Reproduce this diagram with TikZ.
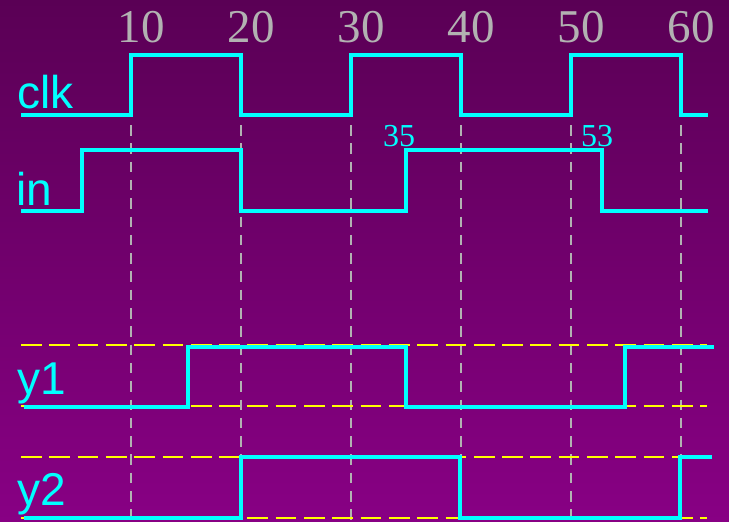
\documentclass[tikz,border=0pt]{standalone}
\usepackage{fontspec}
\setmainfont{Liberation Serif}
\newfontfamily\arialfont{Liberation Sans}
\usepackage{tikz}
\usepackage{xcolor}
\definecolor{bgtop}{RGB}{90, 0, 85}
\definecolor{bgbot}{RGB}{136, 0, 132}
\definecolor{sigcyan}{RGB}{0, 255, 255}
\definecolor{gridgray}{RGB}{178, 178, 178}
\definecolor{lvlyellow}{RGB}{255, 255, 0}
\tikzstyle{wave} = [sigcyan, line width=4pt, line join=miter]
\tikzstyle{gridline} = [gridgray, line width=2.4pt, dash pattern=on 10.5pt off 7.8pt]
\tikzstyle{level} = [lvlyellow, line width=2pt, dash pattern=on 20.7pt off 7.6pt]
\tikzstyle{siglbl} = [inner sep=0, anchor=base west, text=sigcyan, font=\arialfont\fontsize{46}{46}\selectfont]
\tikzstyle{ticklbl} = [inner sep=0, anchor=base, text=gridgray, font=\fontsize{47}{47}\selectfont]
\tikzstyle{timelbl} = [inner sep=0, anchor=base, text=sigcyan, font=\fontsize{32}{32}\selectfont]

\begin{document}
\begin{tikzpicture}[x=1pt, y=-1pt]
    \useasboundingbox (0,0) rectangle (729,522);
    \shade[top color=bgtop, bottom color=bgbot] (0,0) rectangle (729,522);

    % time grid, 11px per ns, t=0 at x=21
    \foreach \t in {10,20,...,60} {
        \draw [gridline] ({21+11*\t},125) -- ({21+11*\t},522);
        \node (t\t) [ticklbl] at ({31+11*\t},42) {\t};
    }

    % output levels
    \draw [level] (21,345) -- (707,345);
    \draw [level] (21,406) -- (707,406);
    \draw [level] (21,457) -- (707,457);
    \draw [level] (21,518) -- (707,518);

    \node (clklbl) [siglbl] at (17,108) {clk};
    \node (inlbl) [siglbl] at (16,205.5) {in};
    \node (y1lbl) [siglbl] at (17,394) {y1};
    \node (y2lbl) [siglbl] at (17,505) {y2};

    \node (m35) [timelbl] at (399,146) {35};
    \node (m53) [timelbl] at (597,146) {53};

    \draw [wave] (21,115) -- (131,115) -- (131,55) -- (241,55) -- (241,115) -- (351,115) -- (351,55)
        -- (461,55) -- (461,115) -- (571,115) -- (571,55) -- (681,55) -- (681,115) -- (708,115);
    \draw [wave] (21,211) -- (82,211) -- (82,150) -- (241,150) -- (241,211) -- (406,211) -- (406,150)
        -- (602,150) -- (602,211) -- (708,211);
    \draw [wave] (24,407) -- (188,407) -- (188,347) -- (406,347) -- (406,407) -- (625,407) -- (625,347)
        -- (714,347);
    \draw [wave] (24,518) -- (241,518) -- (241,457) -- (460,457) -- (460,518) -- (680,518) -- (680,457)
        -- (712,457);
\end{tikzpicture}
\end{document}
